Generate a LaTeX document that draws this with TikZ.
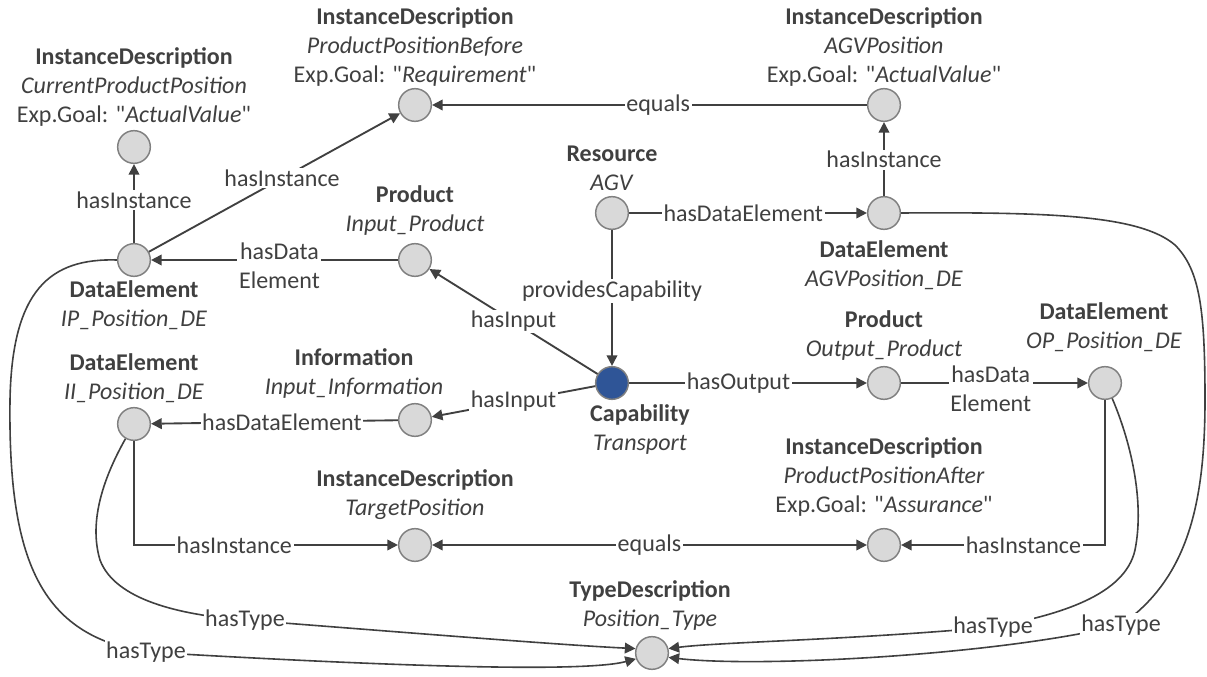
\documentclass[tikz,border=0pt]{standalone}
\usepackage{fontspec}
\setmainfont{Carlito}[Ligatures=TeXOff]
\usetikzlibrary{arrows.meta}
\definecolor{txt}{HTML}{404040}
\definecolor{ln}{HTML}{404040}
\definecolor{cfill}{HTML}{D9D9D9}
\definecolor{cborder}{HTML}{808080}
\definecolor{capfill}{HTML}{2F5597}
\tikzset{
  ent/.style={circle, draw=cborder, fill=cfill, line width=1.1pt, minimum size=24.5pt, inner sep=0pt},
  capnode/.style={ent, fill=capfill},
  lab/.style={align=center, inner sep=0pt},
  elab/.style={fill=white, inner sep=1.2pt},
  arr/.style={draw=ln, line width=1.4pt, -{Triangle[length=8pt,width=8pt]}},
  arrboth/.style={draw=ln, line width=1.4pt, {Triangle[length=8pt,width=8pt]}-{Triangle[length=8pt,width=8pt]}},
  arrc/.style={draw=ln, line width=1.2pt, -{Triangle[length=8pt,width=8pt]}},
}
\begin{document}
\begin{tikzpicture}[x=0.75pt,y=-0.75pt, every node/.append style={font=\fontsize{18pt}{21.75pt}\selectfont, text=txt}]
\useasboundingbox[fill=white] (0,0) rectangle (1207,677);

% entity circles
\node[ent] (cpp) at (134,147) {};
\node[ent] (ppb) at (415,105) {};
\node[ent] (agvpos) at (884,105) {};
\node[ent] (ipde) at (134,260) {};
\node[ent] (inprod) at (415,260) {};
\node[ent] (agv) at (612,213) {};
\node[ent] (agvde) at (884,213) {};
\node[capnode] (cap) at (612,383) {};
\node[ent] (ininfo) at (415,420) {};
\node[ent] (iide) at (134,424) {};
\node[ent] (outprod) at (884,383) {};
\node[ent] (opde) at (1105,383) {};
\node[ent] (target) at (415,545) {};
\node[ent] (ppa) at (884,545) {};
\node[ent] (ptype) at (652,653) {};

% entity labels
\node[lab] (cppT) at (134,87) {\textbf{InstanceDescription}\\\textit{CurrentProductPosition}\\Exp.Goal: "\textit{ActualValue}"};
\node[lab] (ppbT) at (415,47) {\textbf{InstanceDescription}\\\textit{ProductPositionBefore}\\Exp.Goal: "\textit{Requirement}"};
\node[lab] (agvposT) at (884,47) {\textbf{InstanceDescription}\\\textit{AGVPosition}\\Exp.Goal: "\textit{ActualValue}"};
\node[lab] (agvT) at (612,168) {\textbf{Resource}\\\textit{AGV}};
\node[lab] (agvdeT) at (884,265) {\textbf{DataElement}\\\textit{AGVPosition\_DE}};
\node[lab] (inprodT) at (415,211) {\textbf{Product}\\\textit{Input\_Product}};
\node[lab] (ipdeT) at (134,305) {\textbf{DataElement}\\\textit{IP\_Position\_DE}};
\node[lab] (ininfoT) at (354,373) {\textbf{Information}\\\textit{Input\_Information}};
\node[lab] (iideT) at (134,378) {\textbf{DataElement}\\\textit{II\_Position\_DE}};
\node[lab] (capT) at (640,430) {\textbf{Capability}\\\textit{Transport}};
\node[lab] (outprodT) at (884,336) {\textbf{Product}\\\textit{Output\_Product}};
\node[lab] (opdeT) at (1104,327) {\textbf{DataElement}\\\textit{OP\_Position\_DE}};
\node[lab] (ppaT) at (884,477) {\textbf{InstanceDescription}\\\textit{ProductPositionAfter}\\Exp.Goal: "\textit{Assurance}"};
\node[lab] (targetT) at (415,495) {\textbf{InstanceDescription}\\\textit{TargetPosition}};
\node[lab] (ptypeT) at (650,605) {\textbf{TypeDescription}\\\textit{Position\_Type}};

% straight connectors
\draw[arr] (ipde) -- node[elab,pos=0.54] (e1) {hasInstance} (cpp);
\draw[arr] (ipde) -- node[elab,pos=0.53] (e2) {hasInstance} (ppb);
\draw[arr] (inprod) -- node[elab,pos=0.48,yshift=-4.5pt,align=center] (e3) {hasData\\Element} (ipde);
\draw[arr] (agvpos) -- node[elab,pos=0.48] (e4) {equals} (ppb);
\draw[arr] (agvde) -- node[elab,pos=0.49] (e5) {hasInstance} (agvpos);
\draw[arr] (agv) -- node[elab,pos=0.48] (e6) {hasDataElement} (agvde);
\draw[arr] (agv) -- node[elab,pos=0.45] (e7) {providesCapability} (cap);
\draw[arr] (cap) -- node[elab,pos=0.5] (e8) {hasInput} (inprod);
\draw[arr] (cap) -- node[elab,pos=0.5] (e9) {hasInput} (ininfo);
\draw[arr] (cap) -- node[elab,pos=0.46] (e10) {hasOutput} (outprod);
\draw[arr] (outprod) -- node[elab,pos=0.48,yshift=-4.5pt,align=center] (e11) {hasData\\Element} (opde);
\draw[arr] (ininfo) -- node[elab,pos=0.47] (e12) {hasDataElement} (iide);
\draw[arr] (iide.south) |- node[elab,pos=0.69] (e13) {hasInstance} (target);
\draw[arr] (opde.south) |- node[elab,pos=0.7] (e14) {hasInstance} (ppa);
\draw[arrboth] (target) -- node[elab,pos=0.5] (e15) {equals} (ppa);

% hasType curves
\draw[arrc] (ipde.west) .. controls (50,258) and (12,290) .. (10,400) .. controls (8,560) and (40,635) .. (146,652) .. controls (350,664) and (580,674) .. (ptype.200);
\draw[arrc] (iide.240) .. controls (105,475) and (88,520) .. (100,560) .. controls (115,600) and (180,615) .. (245,620) .. controls (400,632) and (560,645) .. (ptype.165);
\draw[arrc] (opde.-65) .. controls (1130,440) and (1145,500) .. (1135,550) .. controls (1125,595) and (1060,615) .. (993,627) .. controls (850,640) and (720,642) .. (ptype.15);
\draw[arrc] (agvde.east) .. controls (1050,212) and (1140,215) .. (1175,245) .. controls (1200,270) and (1205,310) .. (1205,400) .. controls (1205,510) and (1185,580) .. (1121,625) .. controls (1000,655) and (760,668) .. (ptype.-15);

\node[elab] (t1) at (146,652) {hasType};
\node[elab] (t2) at (245,620) {hasType};
\node[elab] (t3) at (993,627) {hasType};
\node[elab] (t4) at (1121,625) {hasType};
\end{tikzpicture}
\end{document}
